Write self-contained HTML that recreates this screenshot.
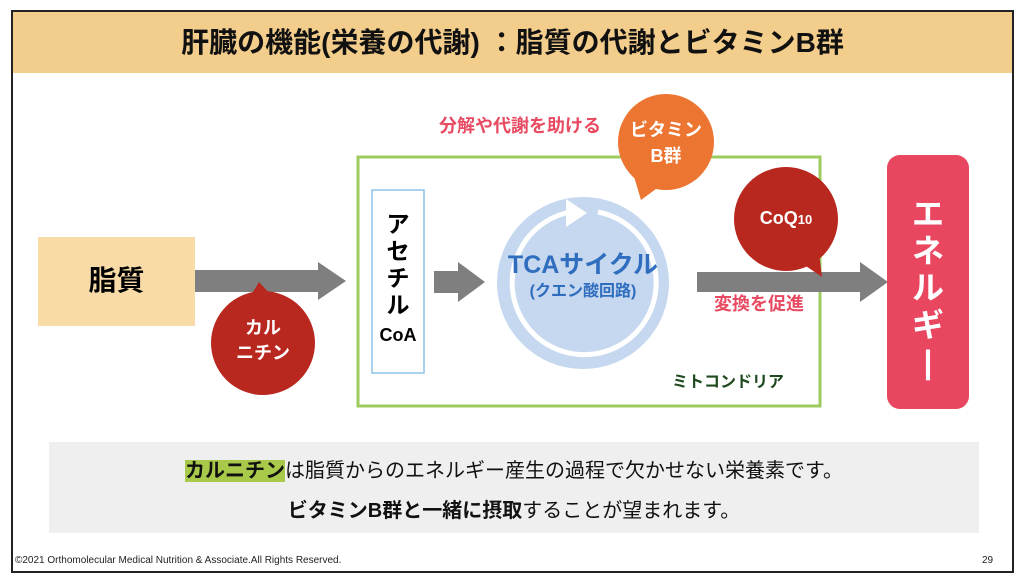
<!DOCTYPE html>
<html><head><meta charset="utf-8"><style>
*{margin:0;padding:0;box-sizing:border-box}
body{width:1024px;height:584px;background:#fff;position:relative;overflow:hidden;font-family:"Liberation Sans","Noto Sans CJK JP",sans-serif}
.a{position:absolute}
</style></head><body>
<div class="a" style="left:11px;top:10px;width:1003px;height:563px;border:2px solid #222;"></div>
<div class="a" style="left:13px;top:12px;width:999px;height:61px;background:#f3cd8b;"></div>
<div class="a" style="left:13px;top:24px;width:999px;text-align:center;font-size:28px;font-weight:bold;color:#111;line-height:38px">肝臓の機能(栄養の代謝) ：脂質の代謝とビタミンB群</div>

<svg class="a" style="left:0;top:0" width="1024" height="584">
 <rect x="38" y="237" width="157" height="89" fill="#f9dba8"/>
 <polygon points="195,270 318,270 318,262 346,281 318,300 318,292 195,292" fill="#7f7f7f"/>
 <rect x="358" y="157" width="462" height="249" fill="none" stroke="#9dcb5f" stroke-width="3"/>
 <rect x="372" y="190" width="52" height="183" fill="#fff" stroke="#8ec4ea" stroke-width="1.5"/>
 <polygon points="434,271 458,271 458,262 485,282 458,302 458,293 434,293" fill="#7f7f7f"/>
 <circle cx="583" cy="283" r="86" fill="#c6d8ef"/>
 <path d="M598,212 A72,72 0 1 1 568,212.5" fill="none" stroke="#fff" stroke-width="5"/>
 <polygon points="566,199 587,213 566,227" fill="#fff"/>
 <polygon points="697,272 860,272 860,262 888,282 860,302 860,292 697,292" fill="#7f7f7f"/>
 <rect x="887" y="155" width="82" height="254" rx="13" fill="#e9475f"/>
 <circle cx="263" cy="343" r="52" fill="#b9281e"/>
 <polygon points="250,297 259,282 272,296" fill="#b9281e"/>
 <circle cx="666" cy="142" r="48" fill="#ec7631"/>
 <polygon points="632,170 641,200 660,186" fill="#ec7631"/>
 <circle cx="786" cy="219" r="52" fill="#b9281e"/>
 <polygon points="800,262 822,277 818,245" fill="#b9281e"/>
</svg>

<div class="a" style="left:38px;top:262px;width:157px;text-align:center;font-size:28px;font-weight:bold;line-height:38px">脂質</div>
<div class="a" style="left:211px;top:316px;width:104px;text-align:center;font-size:18px;font-weight:bold;color:#fff;line-height:25px">カル<br>ニチン</div>
<div class="a" style="left:372px;top:211px;width:52px;text-align:center;font-size:23px;font-weight:bold;line-height:27px">ア<br>セ<br>チ<br>ル</div>
<div class="a" style="left:372px;top:324px;width:52px;text-align:center;font-size:18px;font-weight:bold;line-height:22px">CoA</div>
<div class="a" style="left:492px;top:250px;width:182px;text-align:center;font-size:25px;font-weight:bold;color:#2f6dbf;line-height:30px">TCAサイクル</div>
<div class="a" style="left:492px;top:281px;width:182px;text-align:center;font-size:16px;font-weight:bold;color:#2f6dbf;line-height:22px">(クエン酸回路)</div>
<div class="a" style="left:415px;top:114px;width:210px;text-align:center;font-size:18px;font-weight:bold;color:#e84a61;line-height:24px">分解や代謝を助ける</div>
<div class="a" style="left:618px;top:117px;width:96px;text-align:center;font-size:18px;font-weight:bold;color:#fff;line-height:26px">ビタミン<br>B群</div>
<div class="a" style="left:734px;top:205px;width:104px;text-align:center;font-size:18px;font-weight:bold;color:#fff;line-height:26px">CoQ<span style="font-size:13px">10</span></div>
<div class="a" style="left:696px;top:291px;width:126px;text-align:center;font-size:18px;font-weight:bold;color:#e84a61;line-height:26px">変換を促進</div>
<div class="a" style="left:656px;top:371px;width:144px;text-align:center;font-size:16px;font-weight:bold;color:#1f4a1f;line-height:24px">ミトコンドリア</div>
<div class="a" style="left:887px;top:196px;width:82px;text-align:center;font-size:32px;font-weight:bold;color:#fff;line-height:37px">エ<br>ネ<br>ル<br>ギ<br>|</div>

<div class="a" style="left:49px;top:442px;width:930px;height:91px;background:#efefef"></div>
<div class="a" style="left:49px;top:457px;width:930px;text-align:center;font-size:20px;line-height:28px;color:#111"><span style="background:#a9c94a;font-weight:bold">カルニチン</span>は脂質からのエネルギー産生の過程で欠かせない栄養素です。</div>
<div class="a" style="left:49px;top:497px;width:930px;text-align:center;font-size:20px;line-height:28px;color:#111"><b>ビタミンB群と一緒に摂取</b>することが望まれます。</div>
<div class="a" style="left:15px;top:555px;font-size:10px;color:#222;line-height:12px">©2021 Orthomolecular Medical Nutrition &amp; Associate.All Rights Reserved.</div>
<div class="a" style="left:982px;top:555px;font-size:10px;color:#222;line-height:12px">29</div>
</body></html>
